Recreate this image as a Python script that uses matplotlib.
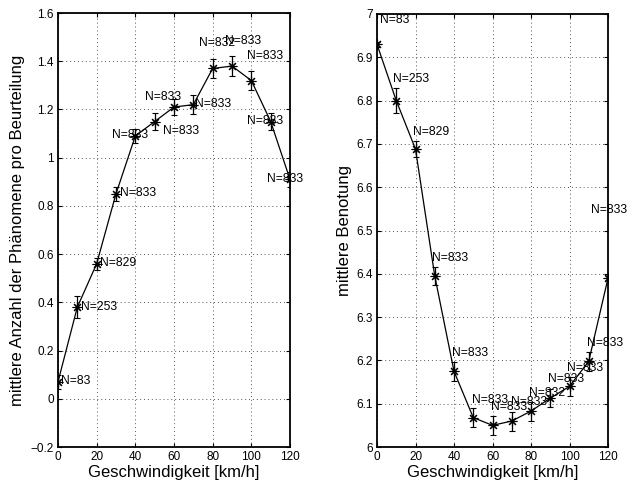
import matplotlib
matplotlib.use("Agg")
import matplotlib.pyplot as plt

plt.rcParams["font.family"] = ["Liberation Sans", "DejaVu Sans"]

speed = [0, 10, 20, 30, 40, 50, 60, 70, 80, 90, 100, 110, 120]

# left: mittlere Anzahl der Phaenomene
count_mean = [0.07, 0.38, 0.56, 0.85, 1.09, 1.15, 1.21, 1.22, 1.37, 1.38, 1.32, 1.15, 0.91]
count_err = [0.03, 0.045, 0.025, 0.03, 0.03, 0.035, 0.035, 0.04, 0.04, 0.04, 0.04, 0.035, 0.03]
count_n = ["N=83", "N=253", "N=829", "N=833", "N=833", "N=833", "N=833",
           "N=833", "N=832", "N=833", "N=833", "N=833", "N=833"]
count_lx = [1.5, 11.9, 21.7, 32.1, 27.9, 54.3, 45.0, 70.9, 72.9, 86.4, 97.8, 97.8, 108.0]
count_ly = [0.075, 0.382, 0.564, 0.855, 1.094, 1.112, 1.253, 1.223, 1.476, 1.485, 1.42, 1.153, 0.911]

# right: mittlere Benotung
grade_mean = [6.93, 6.80, 6.688, 6.395, 6.175, 6.068, 6.05, 6.06, 6.083, 6.113, 6.14, 6.198, 6.39]
grade_err = [0.006, 0.028, 0.018, 0.02, 0.022, 0.022, 0.022, 0.022, 0.022, 0.02, 0.022, 0.022, 0.005]
grade_n = ["N=83", "N=253", "N=829", "N=833", "N=833", "N=833", "N=833",
           "N=833", "N=832", "N=833", "N=833", "N=833", "N=833"]
grade_lx = [1.6, 8.5, 18.9, 28.4, 38.8, 49.2, 59.1, 69.5, 79.1, 89.0, 98.9, 109.0, 111.0]
grade_ly = [6.985, 6.851, 6.728, 6.436, 6.218, 6.109, 6.093, 6.105, 6.125, 6.156, 6.183, 6.241, 6.547]

fig = plt.figure(figsize=(6.35, 4.86), dpi=100)
ax1 = fig.add_axes([0.0913, 0.0802, 0.3654, 0.893])
ax2 = fig.add_axes([0.5937, 0.0802, 0.3638, 0.891])


def draw(ax, y, err, labels, lx, ly):
    ax.errorbar(speed, y, yerr=err, color="black", lw=0.9, elinewidth=0.9,
                capsize=2.5, capthick=0.9, marker=(8, 2, 0), markersize=7,
                markeredgewidth=0.8, zorder=3)
    for t, a, b in zip(labels, lx, ly):
        ax.text(a, b, t, fontsize=8.7, ha="left", va="center", zorder=4)
    ax.set_xlim(0, 120)
    ax.set_xticks(range(0, 121, 20))
    ax.grid(True, linestyle=(0, (1, 3)), color="#555555", lw=0.7)
    ax.tick_params(direction="in", length=3, top=True, right=True, labelsize=8.5, pad=3)
    for s in ax.spines.values():
        s.set_linewidth(1.3)
    ax.set_xlabel("Geschwindigkeit [km/h]", fontsize=12, labelpad=1)


draw(ax1, count_mean, count_err, count_n, count_lx, count_ly)
ax1.set_ylim(-0.2, 1.6)
ax1.set_yticks([-0.2, 0, 0.2, 0.4, 0.6, 0.8, 1.0, 1.2, 1.4, 1.6])
ax1.set_yticklabels(["\u22120.2", "0", "0.2", "0.4", "0.6", "0.8", "1", "1.2", "1.4", "1.6"])
ax1.set_ylabel("mittlere Anzahl der Phänomene pro Beurteilung", fontsize=12, labelpad=4)

draw(ax2, grade_mean, grade_err, grade_n, grade_lx, grade_ly)
ax2.set_ylim(6, 7)
ax2.set_yticks([6, 6.1, 6.2, 6.3, 6.4, 6.5, 6.6, 6.7, 6.8, 6.9, 7])
ax2.set_yticklabels(["6", "6.1", "6.2", "6.3", "6.4", "6.5", "6.6", "6.7", "6.8", "6.9", "7"])
ax2.set_ylabel("mittlere Benotung", fontsize=12, labelpad=3)

fig.savefig("out.png", dpi=100)
